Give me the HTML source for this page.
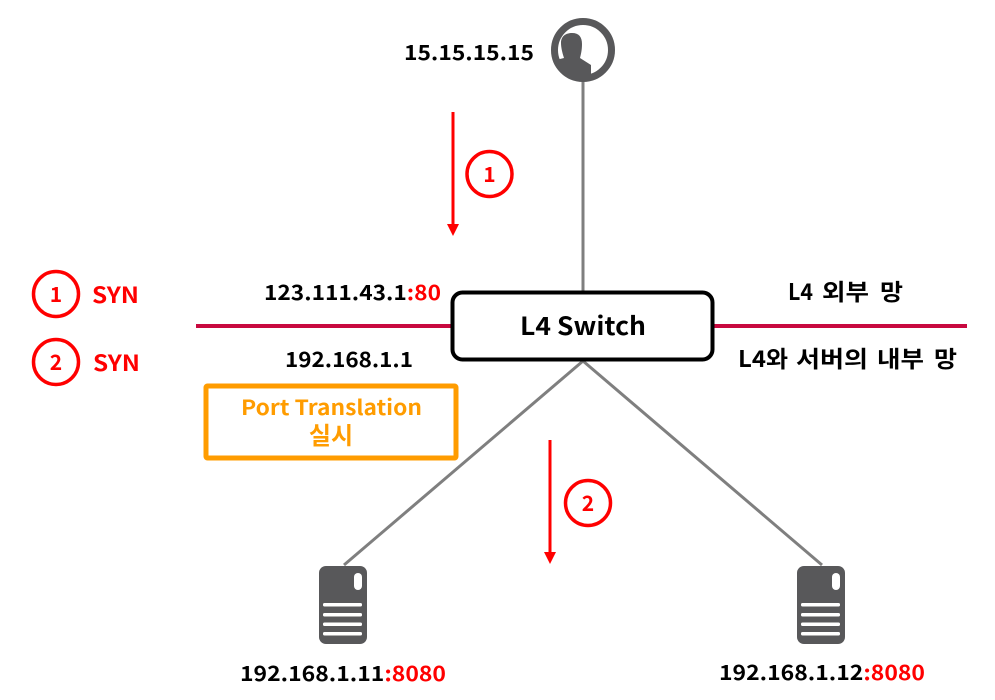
<!DOCTYPE html>
<html><head><meta charset="utf-8">
<style>
html,body{margin:0;padding:0;background:#fff;width:995px;height:700px;overflow:hidden}
text{font-family:"Noto Sans CJK KR","Liberation Sans",sans-serif;font-weight:bold}
</style></head><body>
<svg width="995" height="700" viewBox="0 0 995 700" xmlns="http://www.w3.org/2000/svg" style="display:block">
<!-- lines -->
<line x1="583" y1="80" x2="583" y2="292" stroke="#7f7f7f" stroke-width="3"/>
<line x1="583" y1="361" x2="344" y2="565" stroke="#7f7f7f" stroke-width="3"/>
<line x1="583" y1="361" x2="822" y2="565" stroke="#7f7f7f" stroke-width="3"/>
<line x1="196" y1="326" x2="452" y2="326" stroke="#c8093f" stroke-width="4"/>
<line x1="713" y1="326" x2="967" y2="326" stroke="#c8093f" stroke-width="4"/>
<!-- switch -->
<rect x="452.500" y="292.500" width="260" height="67" rx="10" fill="#fff" stroke="#000" stroke-width="4"/>
<text x="520" y="335" font-size="25" fill="#000" textLength="126" lengthAdjust="spacingAndGlyphs">L4 Switch</text>
<!-- user -->
<circle cx="583" cy="50" r="28.500" fill="#fff" stroke="#58585a" stroke-width="7"/>
<path d="M556 60 L564 58 C562 52 561 47 561 43 C561 36 566 33 572 33 C579 33 582 37 582 44 C582 50 581 54 580 58 L591 65 L591 77 A 30 30 0 0 1 556 60 Z" fill="#58585a"/>
<!-- arrows -->
<line x1="453" y1="112" x2="453" y2="225" stroke="#f00" stroke-width="3"/>
<path d="M447 224 L459 224 L453 236 Z" fill="#f00"/>
<line x1="550" y1="440" x2="550" y2="553" stroke="#f00" stroke-width="3"/>
<path d="M544 552 L556 552 L550 564 Z" fill="#f00"/>
<!-- circles -->
<g fill="#fff" stroke="#f00" stroke-width="3.500">
<circle cx="489.500" cy="174" r="22.500"/>
<circle cx="588" cy="503" r="22.500"/>
<circle cx="56" cy="294" r="22.500"/>
<circle cx="56" cy="362" r="22.500"/>
</g>
<g fill="#f00" font-size="21" text-anchor="middle">
<text x="489.500" y="182">1</text>
<text x="588" y="511">2</text>
<text x="56" y="302">1</text>
<text x="56" y="370">2</text>
</g>
<g fill="#f00" font-size="22">
<text x="92" y="303" textLength="47" lengthAdjust="spacingAndGlyphs">SYN</text>
<text x="93" y="371" textLength="47" lengthAdjust="spacingAndGlyphs">SYN</text>
</g>
<!-- labels -->
<g font-size="21" fill="#000">
<text x="404" y="60" textLength="130" lengthAdjust="spacingAndGlyphs">15.15.15.15</text>
<text x="264" y="300" textLength="177" lengthAdjust="spacingAndGlyphs">123.111.43.1<tspan fill="#f00">:80</tspan></text>
<text x="285" y="367" textLength="128" lengthAdjust="spacingAndGlyphs">192.168.1.1</text>
<text x="240" y="681" textLength="206" lengthAdjust="spacingAndGlyphs">192.168.1.11<tspan fill="#f00">:8080</tspan></text>
<text x="719" y="680" textLength="206" lengthAdjust="spacingAndGlyphs">192.168.1.12<tspan fill="#f00">:8080</tspan></text>
</g>
<g font-size="23" fill="#000">
<text x="788" y="300" textLength="25" lengthAdjust="spacingAndGlyphs">L4</text>
<text x="822" y="300" textLength="47" lengthAdjust="spacingAndGlyphs">외부</text>
<text x="880" y="300" textLength="23" lengthAdjust="spacingAndGlyphs">망</text>
<text x="738" y="367" textLength="50" lengthAdjust="spacingAndGlyphs">L4와</text>
<text x="796" y="367" textLength="72" lengthAdjust="spacingAndGlyphs">서버의</text>
<text x="877" y="367" textLength="47" lengthAdjust="spacingAndGlyphs">내부</text>
<text x="934" y="367" textLength="23" lengthAdjust="spacingAndGlyphs">망</text>
</g>
<!-- port box -->
<rect x="206" y="386" width="250" height="72" rx="1.500" fill="#fff" stroke="#ff9c00" stroke-width="5"/>
<text x="241" y="415" font-size="21" fill="#ff9c00" textLength="181" lengthAdjust="spacingAndGlyphs">Port Translation</text>
<text x="331" y="444" text-anchor="middle" font-size="24" fill="#ff9c00">실시</text>
<!-- servers -->
<g>
<rect x="319" y="566" width="48" height="78" rx="7" fill="#58585a"/>
<rect x="354" y="573" width="8" height="17" rx="4" fill="#fff"/>
<g fill="#fff">
<rect x="323" y="603" width="39" height="3.500" rx="1.500"/>
<rect x="323" y="613" width="39" height="3.500" rx="1.500"/>
<rect x="323" y="622.500" width="39" height="3.500" rx="1.500"/>
<rect x="323" y="632" width="39" height="3.500" rx="1.500"/>
</g>
</g>
<g>
<rect x="797" y="566" width="48" height="78" rx="7" fill="#58585a"/>
<rect x="832" y="573" width="8" height="17" rx="4" fill="#fff"/>
<g fill="#fff">
<rect x="801" y="603" width="39" height="3.500" rx="1.500"/>
<rect x="801" y="613" width="39" height="3.500" rx="1.500"/>
<rect x="801" y="622.500" width="39" height="3.500" rx="1.500"/>
<rect x="801" y="632" width="39" height="3.500" rx="1.500"/>
</g>
</g>
</svg>
</body></html>
